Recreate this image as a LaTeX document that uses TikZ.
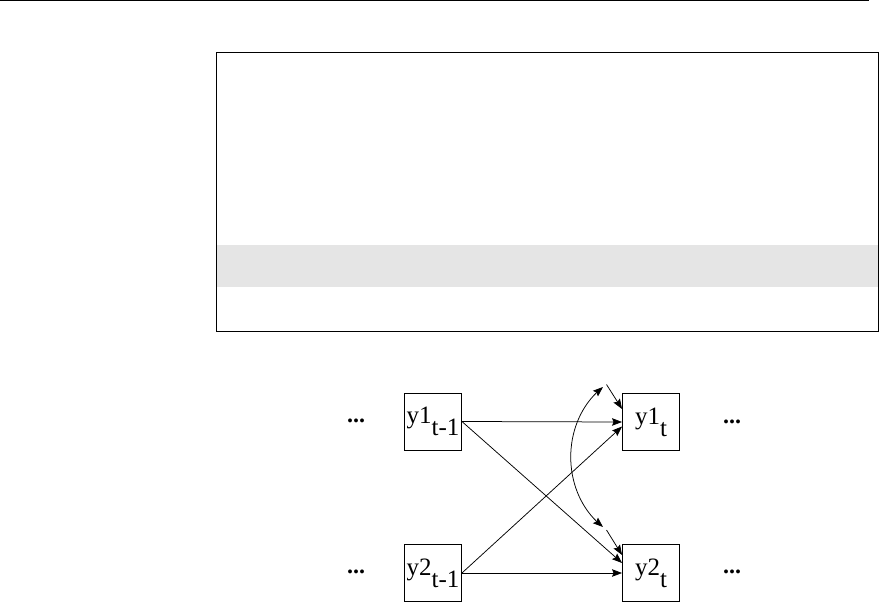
\documentclass[tikz,border=0pt]{standalone}
\usepackage{fontspec}
\newfontfamily\timesfont{Liberation Serif}
\usetikzlibrary{arrows.meta,bending}
\definecolor{band}{gray}{0.898}
\begin{document}
\begin{tikzpicture}[x=1pt,y=-1pt,
  var/.style={draw, line width=0.9pt, minimum width=57pt, minimum height=57pt, inner sep=0pt,
    font=\timesfont\fontsize{25}{25}\selectfont},
  dotsnode/.style={font=\timesfont\bfseries\fontsize{24}{24}\selectfont, inner sep=0pt},
  arr/.style={-{Stealth[length=10pt,width=7.5pt,inset=1.5pt]}, line width=0.75pt},
  cov/.style={{Stealth[length=10pt,width=7.5pt,inset=1.5pt,flex]}-{Stealth[length=10pt,width=7.5pt,inset=1.5pt,flex]}, line width=0.75pt},
]
\useasboundingbox (0,0) rectangle (879,604);
% top rule
\coordinate (tl) at (0,0.75);
\coordinate (tr) at (869,0.75);
\draw[line width=1.5pt] (tl) -- (tr);
% framed panel with grey band
\fill[band] (216,245) rectangle (878,287);
\draw[line width=1.3pt] (216.7,52.7) rectangle (878.2,331.3);
% variables
\node[var] (a1) at (433,421.5) {y1\raisebox{-12pt}{t-1}};
\node[var] (b1) at (651,422) {y1\raisebox{-12pt}{t}};
\node[var] (a2) at (433,573) {y2\raisebox{-12pt}{t-1}};
\node[var] (b2) at (651,573) {y2\raisebox{-12pt}{t}};
% dots
\node[dotsnode] (d1) at (356,421) {...};
\node[dotsnode] (d2) at (732,422) {...};
\node[dotsnode] (d3) at (356,572) {...};
\node[dotsnode] (d4) at (732,572) {...};
% residual points
\coordinate (e1) at (606.5,384.5);
\coordinate (e2) at (606.5,530);
\coordinate (c1) at (603,387);
\coordinate (c2) at (603,527);
% paths
\draw[arr] (a1.east) -- (b1.west);
\draw[arr] (a1.east) -- ([yshift=10pt]b2.west);
\draw[arr] (a2.east) -- ([yshift=-4.5pt]b1.west);
\draw[arr] (a2.east) -- (b2.west);
\draw[arr] (e1) -- ([yshift=13pt]b1.west);
\draw[arr] (e2) -- ([yshift=18pt]b2.west);
\draw[cov] (c1) to[bend right=52] (c2);
\end{tikzpicture}
\end{document}
